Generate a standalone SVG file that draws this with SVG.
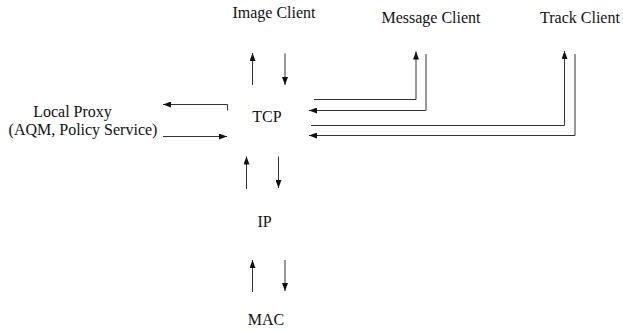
<svg xmlns="http://www.w3.org/2000/svg" width="623" height="332" viewBox="0 0 623 332">
  <style>
    text { font-family: "Liberation Serif", "Times New Roman", serif; font-size: 16px; fill: #111; text-anchor: middle; }
    .link { fill: none; stroke: #333; stroke-width: 1; marker-end: url(#head); }
  </style>
  <defs>
    <marker id="head" markerUnits="userSpaceOnUse" markerWidth="9" markerHeight="6" refX="8" refY="3" orient="auto">
      <path d="M0,0 L8,3 L0,6 z" fill="#111"/>
    </marker>
  </defs>

  <rect width="623" height="332" fill="#fff"/>

  <g id="image-client"><text x="274" y="18">Image Client</text></g>
  <g id="message-client"><text x="431" y="23">Message Client</text></g>
  <g id="track-client"><text x="580" y="23">Track Client</text></g>
  <g id="local-proxy">
    <text x="72.5" y="117">Local Proxy</text>
    <text x="83" y="135">(AQM, Policy Service)</text>
  </g>
  <g id="tcp"><text x="267" y="122">TCP</text></g>
  <g id="ip"><text x="264.5" y="227">IP</text></g>
  <g id="mac"><text x="266" y="325">MAC</text></g>

  <g id="connectors">
    <!-- TCP <-> local proxy -->
    <path class="link" d="M227.5,110.5 V104.5 H163"/>
    <path class="link" d="M163,136.5 H227"/>
    <!-- TCP <-> image client -->
    <path class="link" d="M252.5,85 V53"/>
    <path class="link" d="M285,53.5 V85"/>
    <!-- TCP <-> message client -->
    <path class="link" d="M314,99.5 H416 V51.5"/>
    <path class="link" d="M426,54 V110.5 H309"/>
    <!-- TCP <-> track client -->
    <path class="link" d="M311,125.5 H564.5 V51"/>
    <path class="link" d="M575,54 V135.5 H309"/>
    <!-- IP <-> TCP -->
    <path class="link" d="M246.5,189 V156.5"/>
    <path class="link" d="M278.5,156.5 V188"/>
    <!-- MAC <-> IP -->
    <path class="link" d="M252.5,292 V260"/>
    <path class="link" d="M285,260 V291"/>
  </g>
</svg>
